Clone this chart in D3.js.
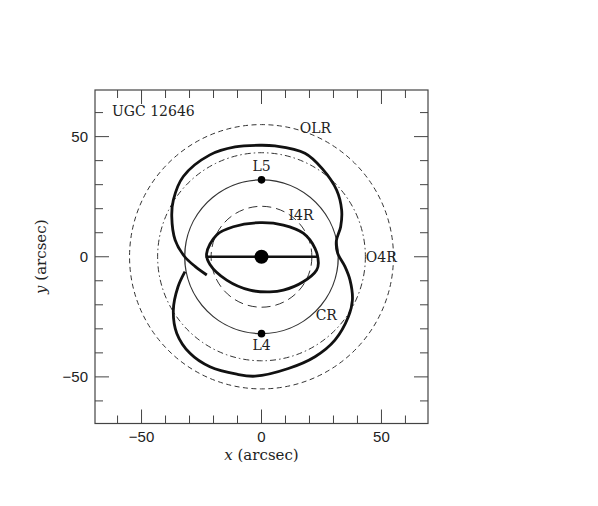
<!DOCTYPE html>
<html>
<head>
<meta charset="utf-8">
<script src="https://cdn.jsdelivr.net/npm/d3@7"></script>
<style>
  body { margin: 0; background: #fff; }
  svg { display: block; }
  .tick-label { font-family: "Liberation Sans", "DejaVu Sans", sans-serif; font-size: 15px; fill: #222; }
  .serif { font-family: "DejaVu Serif", "Liberation Serif", serif; font-size: 14px; fill: #222; }
  .title { font-family: "DejaVu Serif", "Liberation Serif", serif; font-size: 15px; fill: #222; }
</style>
</head>
<body>
<div id="graph"></div>
<script>
// Tick labels and minor ticks
var majorTicks = [-50, 0, 50];
var minorTicks = [-60, -40, -30, -20, -10, 10, 20, 30, 40, 60];

// Resonance circles (radius in arcsec)
var resonanceNames = ['OLR', 'O4R', 'CR', 'I4R'];
var resonanceRadii = [55, 43.3, 32, 21];

// Lagrangian points
var lagrangeNames = ['L5', 'L4'];
var lagrangeX = [0, 0];
var lagrangeY = [32, -32];

// Bar half length
var barHalfLength = 23.3;

// Outer thick orbit
var outerOrbitX = [-22.8, -27.7, -32.0, -36.0, -37.4, -36.75, -32.6, -21.5, -11.0, -0.6, 5.6, 18.1, 25.4, 31.3, 33.4, 33.0, 31.2, 31.7, 34.8, 36.9, 37.9, 36.2, 30.6, 22.3, 11.2, -2.7, -10.3, -21.5, -29.8, -35.3, -36.75, -34.8, -31.9];
var outerOrbitY = [-7.6, -4.0, 0.0, 7.0, 16.7, 23.6, 33.4, 42.4, 45.7, 46.4, 46.1, 43.1, 36.6, 27.8, 19.5, 12.5, 6.6, 1.6, -4.1, -9.7, -18.0, -25.0, -34.7, -41.6, -46.5, -49.7, -48.9, -45.8, -40.2, -31.9, -22.2, -12.5, -6.2];

// Inner thick orbit (closed)
var innerOrbitX = [-22.9, -18.7, -11.75, -0.6, 9.1, 17.4, 22.3, 23.7, 23.0, 17.4, 9.1, 3.5, -4.8, -14.5, -21.5];
var innerOrbitY = [1.2, 9.1, 12.5, 14.2, 13.2, 9.8, 3.5, -2.7, -5.5, -10.4, -13.9, -14.6, -13.9, -9.7, -3.2];

var overallWidth = 598;
var overallHeight = 506;

var svg = d3.select('#graph').append('svg')
            .attr('width', overallWidth)
            .attr('height', overallHeight);

svg.append('rect').attr('width', overallWidth).attr('height', overallHeight).attr('fill', '#fff');

// plot frame
var frame = { left: 95, right: 428, top: 90, bottom: 423.5 };

var x = d3.scaleLinear().domain([-69.4, 69.4]).range([frame.left, frame.right]);
var y = d3.scaleLinear().domain([-69.4, 69.4]).range([frame.bottom, frame.top]);

var g = svg.append('g');

// ticks on all four sides, pointing inward
var majorLen = 14, minorLen = 8;
var tickColor = '#444';

var drawTicks = function (vals, len)
{
    vals.forEach(function (v)
    {
        // bottom / top
        g.append('line').attr('x1', x(v)).attr('x2', x(v))
         .attr('y1', frame.bottom).attr('y2', frame.bottom - len)
         .attr('stroke', tickColor).attr('stroke-width', 1);
        g.append('line').attr('x1', x(v)).attr('x2', x(v))
         .attr('y1', frame.top).attr('y2', frame.top + len)
         .attr('stroke', tickColor).attr('stroke-width', 1);
        // left / right
        g.append('line').attr('y1', y(v)).attr('y2', y(v))
         .attr('x1', frame.left).attr('x2', frame.left + len)
         .attr('stroke', tickColor).attr('stroke-width', 1);
        g.append('line').attr('y1', y(v)).attr('y2', y(v))
         .attr('x1', frame.right).attr('x2', frame.right - len)
         .attr('stroke', tickColor).attr('stroke-width', 1);
    });
};
drawTicks(majorTicks, majorLen);
drawTicks(minorTicks, minorLen);

g.append('rect')
 .attr('x', frame.left).attr('y', frame.top)
 .attr('width', frame.right - frame.left).attr('height', frame.bottom - frame.top)
 .attr('fill', 'none').attr('stroke', '#444').attr('stroke-width', 1.2);

// tick labels
majorTicks.forEach(function (v)
{
    g.append('text').attr('class', 'tick-label')
     .attr('x', x(v)).attr('y', frame.bottom + 18.5)
     .attr('text-anchor', 'middle')
     .text(v < 0 ? '\u2212' + Math.abs(v) : v);
    g.append('text').attr('class', 'tick-label')
     .attr('x', frame.left - 7).attr('y', y(v) + 5.5)
     .attr('text-anchor', 'end')
     .text(v < 0 ? '\u2212' + Math.abs(v) : v);
});

// axis titles
var xt = g.append('text').attr('class', 'title')
          .attr('x', x(0)).attr('y', 460).attr('text-anchor', 'middle');
xt.append('tspan').attr('font-style', 'italic').text('x');
xt.append('tspan').text(' (arcsec)');

var yt = g.append('text').attr('class', 'title')
          .attr('transform', 'translate(46,' + y(0) + ') rotate(-90)')
          .attr('text-anchor', 'middle');
yt.append('tspan').attr('font-style', 'italic').text('y');
yt.append('tspan').text(' (arcsec)');

// resonance circles
var circleStyles = {
    OLR: { dash: '5,3.5', width: 1 },
    O4R: { dash: '6,3,1.5,3', width: 1 },
    CR:  { dash: null, width: 1.3 },
    I4R: { dash: '9,5', width: 1 }
};

resonanceNames.forEach(function (name, i)
{
    var r = resonanceRadii[i];
    g.append('ellipse')
     .attr('cx', x(0)).attr('cy', y(0))
     .attr('rx', x(r) - x(0)).attr('ry', y(0) - y(r))
     .attr('fill', 'none').attr('stroke', '#333')
     .attr('stroke-width', circleStyles[name].width)
     .attr('stroke-dasharray', circleStyles[name].dash);
});

// thick orbits
var outerPts = outerOrbitX.map(function (d, i) { return [d, outerOrbitY[i]]; });
var innerPts = innerOrbitX.map(function (d, i) { return [d, innerOrbitY[i]]; });

var orbitLine = d3.line()
                  .x(function (d) { return x(d[0]); })
                  .y(function (d) { return y(d[1]); });

g.append('path')
 .attr('d', orbitLine.curve(d3.curveCatmullRom.alpha(0.5))(outerPts))
 .attr('fill', 'none').attr('stroke', '#111').attr('stroke-width', 2.8)
 .attr('stroke-linecap', 'butt');

g.append('path')
 .attr('d', orbitLine.curve(d3.curveCatmullRomClosed.alpha(0.5))(innerPts))
 .attr('fill', 'none').attr('stroke', '#111').attr('stroke-width', 2.8);

// bar
g.append('line')
 .attr('x1', x(-barHalfLength)).attr('x2', x(barHalfLength))
 .attr('y1', y(0)).attr('y2', y(0))
 .attr('stroke', '#111').attr('stroke-width', 2.5);

// centre
g.append('circle').attr('cx', x(0)).attr('cy', y(0)).attr('r', 7).attr('fill', '#000');

// Lagrangian points
lagrangeNames.forEach(function (name, i)
{
    g.append('circle').attr('cx', x(lagrangeX[i])).attr('cy', y(lagrangeY[i]))
     .attr('r', 3.8).attr('fill', '#000');
});

// labels
var labels = [
    { t: 'UGC 12646', px: x(-62.3), py: y(58.7), anchor: 'start' },
    { t: 'OLR',       px: x(22.5),  py: y(51.7), anchor: 'middle' },
    { t: 'L5',        px: x(0),     py: y(35.5), anchor: 'middle' },
    { t: 'I4R',       px: x(16.5),  py: y(15.3), anchor: 'middle' },
    { t: 'O4R',       px: x(43.5),  py: y(-2.2), anchor: 'start' },
    { t: 'CR',        px: x(27),    py: y(-26.5), anchor: 'middle' },
    { t: 'L4',        px: x(0),     py: y(-38.8), anchor: 'middle' }
];
labels.forEach(function (l)
{
    g.append('text').attr('class', 'serif')
     .attr('x', l.px).attr('y', l.py)
     .attr('text-anchor', l.anchor)
     .text(l.t);
});
</script>
</body>
</html>
